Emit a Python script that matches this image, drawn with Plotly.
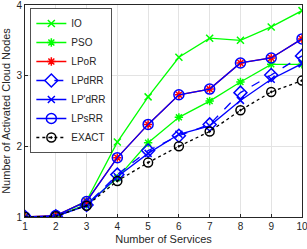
import plotly.graph_objects as go

services = [1, 2, 3, 4, 5, 6, 7, 8, 9, 10]
io = [1.0, 1.01, 1.23, 2.06, 2.70, 3.26, 3.53, 3.50, 3.69, 3.92]
pso = [1.0, 1.01, 1.18, 1.55, 2.05, 2.41, 2.64, 2.91, 3.16, 3.16]
lpor = [1.0, 1.02, 1.22, 1.84, 2.31, 2.73, 2.81, 3.18, 3.25, 3.52]
lpdrr = [1.0, 1.01, 1.17, 1.60, 1.94, 2.15, 2.31, 2.76, 3.01, 3.28]
lppdrr = [1.0, 1.01, 1.16, 1.57, 1.90, 2.17, 2.29, 2.65, 2.95, 3.17]
lpsrr = [1.0, 1.02, 1.22, 1.84, 2.31, 2.73, 2.81, 3.18, 3.25, 3.52]
exact = [1.0, 1.01, 1.16, 1.51, 1.77, 2.00, 2.21, 2.51, 2.77, 2.93]
y_ticks = [1, 2, 3, 4]

GREEN = "#00ff00"
BLUE = "#0000ff"
RED = "#ff0000"

series = [
    ("IO", io, GREEN, "solid", "x-thin-open", 7, GREEN),
    ("PSO", pso, GREEN, "solid", "asterisk-open", 7, GREEN),
    ("LPoR", lpor, RED, "solid", "asterisk-open", 7, RED),
    ("LPdRR", lpdrr, BLUE, "dash", "diamond-open", 10, BLUE),
    ("LP'dRR", lppdrr, BLUE, "solid", "x-thin-open", 7, BLUE),
    ("LPsRR", lpsrr, BLUE, "solid", "circle-open", 10, BLUE),
    ("EXACT", exact, "black", "dot", "circle-open-dot", 9, "black"),
]

fig = go.Figure()
for name, vals, col, dash, sym, size, mcol in series:
    fig.add_trace(go.Scatter(
        x=services, y=vals, name=name, mode="lines+markers",
        line=dict(color=col, width=1.3, dash=dash),
        marker=dict(symbol=sym, size=size, color=mcol,
                    line=dict(color=mcol, width=1.5)),
    ))

fig.update_layout(
    width=307, height=249,
    margin=dict(l=25, r=5, t=5, b=32),
    paper_bgcolor="white", plot_bgcolor="white",
    font=dict(family="Liberation Sans, Arial, sans-serif", size=10, color="#262626"),
    showlegend=True,
    legend=dict(x=0.02, y=0.985, xanchor="left", yanchor="top",
                bgcolor="white", bordercolor="#262626", borderwidth=0.8,
                font=dict(size=10, color="#262626"),
                tracegroupgap=0, itemwidth=30),
)
fig.update_xaxes(
    range=[1, 10], tickvals=services, ticks="inside", ticklen=3,
    tickcolor="#262626", showgrid=True, gridcolor="#e3e3e3", gridwidth=1,
    showline=True, linecolor="#262626", linewidth=1, mirror=True,
    title=dict(text="Number of Services", standoff=4, font=dict(size=11)),
    zeroline=False, automargin=False, ticklabeloverflow="allow",
)
fig.update_yaxes(
    range=[1, 4], tickvals=y_ticks, ticks="inside", ticklen=3,
    tickcolor="#262626", showgrid=True, gridcolor="#e3e3e3", gridwidth=1,
    showline=True, linecolor="#262626", linewidth=1, mirror=True,
    title=dict(text="Number of Activated Cloud Nodes", standoff=4, font=dict(size=11)),
    zeroline=False, automargin=False, ticklabeloverflow="allow",
)
fig.write_html("out.html", config={"displayModeBar": False},
               post_script="document.body.style.margin='0';")
